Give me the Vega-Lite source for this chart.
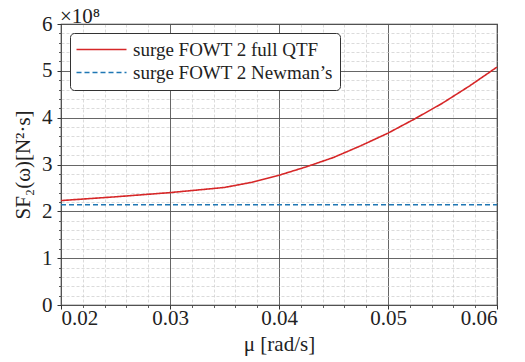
{
  "$schema": "https://vega.github.io/schema/vega-lite/v6.json",
  "width": 436,
  "height": 281,
  "autosize": "none",
  "padding": {"left": 61, "top": 24, "right": 28, "bottom": 57},
  "background": "white",
  "config": {
    "font": "Liberation Serif, Times New Roman, serif",
    "view": {"stroke": "#333333", "strokeWidth": 1.2},
    "axis": {"labelFont": "Liberation Serif, Times New Roman, serif", "titleFont": "Liberation Serif, Times New Roman, serif", "labelColor": "#222", "titleColor": "#222", "titleFontWeight": "normal"},
    "legend": {"labelFont": "Liberation Serif, Times New Roman, serif"},
    "title": {"font": "Liberation Serif, Times New Roman, serif"}
  },
  "title": {"text": "×10⁸", "anchor": "start", "frame": "group", "fontSize": 21, "fontWeight": "normal", "color": "#222", "offset": -14, "dx": -1},
  "data": {
    "values": [
      {"mu": 0.02, "S": 223000000, "series": "surge FOWT 2 full QTF"},
      {"mu": 0.025, "S": 231000000, "series": "surge FOWT 2 full QTF"},
      {"mu": 0.03, "S": 240000000, "series": "surge FOWT 2 full QTF"},
      {"mu": 0.035, "S": 251000000, "series": "surge FOWT 2 full QTF"},
      {"mu": 0.0375, "S": 262000000, "series": "surge FOWT 2 full QTF"},
      {"mu": 0.04, "S": 277000000, "series": "surge FOWT 2 full QTF"},
      {"mu": 0.0425, "S": 295000000, "series": "surge FOWT 2 full QTF"},
      {"mu": 0.045, "S": 315000000, "series": "surge FOWT 2 full QTF"},
      {"mu": 0.0475, "S": 340000000, "series": "surge FOWT 2 full QTF"},
      {"mu": 0.05, "S": 367000000, "series": "surge FOWT 2 full QTF"},
      {"mu": 0.0525, "S": 398000000, "series": "surge FOWT 2 full QTF"},
      {"mu": 0.055, "S": 431000000, "series": "surge FOWT 2 full QTF"},
      {"mu": 0.0575, "S": 468000000, "series": "surge FOWT 2 full QTF"},
      {"mu": 0.06, "S": 508000000, "series": "surge FOWT 2 full QTF"},
      {"mu": 0.02, "S": 214000000, "series": "surge FOWT 2 Newman’s"},
      {"mu": 0.06, "S": 214000000, "series": "surge FOWT 2 Newman’s"}
    ]
  },
  "resolve": {"axis": {"x": "independent", "y": "independent"}},
  "layer": [
    {
      "transform": [{"filter": "datum.series === 'surge FOWT 2 Newman’s'"}],
      "mark": {"type": "line", "strokeWidth": 1.6},
      "encoding": {
        "x": {"field": "mu", "type": "quantitative",
          "scale": {"domain": [0.02, 0.06], "nice": false, "zero": false},
          "axis": {"orient": "bottom", "title": null, "labels": false, "domain": false,
            "values": [0.022, 0.024, 0.026, 0.028, 0.032, 0.034, 0.036, 0.038, 0.042, 0.044, 0.046, 0.048, 0.052, 0.054, 0.056, 0.058],
            "grid": true, "gridColor": "#cccccc", "gridDash": [3, 2], "gridWidth": 0.7,
            "ticks": true, "tickSize": 2.5, "tickColor": "#333", "tickWidth": 0.8}},
        "y": {"field": "S", "type": "quantitative",
          "scale": {"domain": [0, 600000000], "nice": false},
          "axis": {"orient": "left", "title": null, "labels": false, "domain": false,
            "values": [20000000, 40000000, 60000000, 80000000, 120000000, 140000000, 160000000, 180000000, 220000000, 240000000, 260000000, 280000000, 320000000, 340000000, 360000000, 380000000, 420000000, 440000000, 460000000, 480000000, 520000000, 540000000, 560000000, 580000000],
            "grid": true, "gridColor": "#cccccc", "gridDash": [3, 2], "gridWidth": 0.7,
            "ticks": true, "tickSize": 2.5, "tickColor": "#333", "tickWidth": 0.8}},
        "color": {"field": "series", "type": "nominal",
          "scale": {"domain": ["surge FOWT 2 full QTF", "surge FOWT 2 Newman’s"], "range": ["#d62728", "#1f77b4"]},
          "legend": {"orient": "top-left", "offset": 9, "title": null, "symbolType": "M-5,0L5,0", "symbolSize": 100, "symbolStrokeWidth": 1.6,
            "symbolOffset": 15,
            "labelFontSize": 19, "labelColor": "#222", "labelOffset": 22, "rowPadding": 3,
            "padding": 7, "fillColor": "white", "strokeColor": "#333", "cornerRadius": 4, "labelLimit": 400}},
        "strokeDash": {"field": "series", "type": "nominal",
          "scale": {"domain": ["surge FOWT 2 full QTF", "surge FOWT 2 Newman’s"], "range": [[1, 0], [5, 3]]},
          "legend": null}
      }
    },
    {
      "transform": [{"filter": "datum.series === 'surge FOWT 2 full QTF'"}],
      "mark": {"type": "line", "strokeWidth": 1.6},
      "encoding": {
        "x": {"field": "mu", "type": "quantitative",
          "scale": {"domain": [0.02, 0.06], "nice": false, "zero": false},
          "axis": {"orient": "bottom", "title": "μ [rad/s]", "titleFontSize": 21, "titlePadding": 5,
            "values": [0.02, 0.03, 0.04, 0.05, 0.06], "format": ".2f",
            "labelFontSize": 21, "labelPadding": -2, "domain": false,
            "grid": true, "gridColor": "#555", "gridWidth": 0.9,
            "ticks": true, "tickSize": 4, "tickColor": "#333", "tickWidth": 1}},
        "y": {"field": "S", "type": "quantitative",
          "scale": {"domain": [0, 600000000], "nice": false},
          "axis": {"orient": "left", "title": "SF₂(ω)[N²·s]", "titleFontSize": 21, "titlePadding": 8,
            "values": [0, 100000000, 200000000, 300000000, 400000000, 500000000, 600000000],
            "labelExpr": "format(datum.value / 100000000, 'd')",
            "labelFontSize": 21, "labelPadding": 5, "domain": false,
            "grid": true, "gridColor": "#555", "gridWidth": 0.9,
            "ticks": true, "tickSize": 4, "tickColor": "#333", "tickWidth": 1}},
        "color": {"field": "series", "type": "nominal",
          "scale": {"domain": ["surge FOWT 2 full QTF", "surge FOWT 2 Newman’s"], "range": ["#d62728", "#1f77b4"]}},
        "strokeDash": {"field": "series", "type": "nominal",
          "scale": {"domain": ["surge FOWT 2 full QTF", "surge FOWT 2 Newman’s"], "range": [[1, 0], [5, 3]]},
          "legend": null}
      }
    }
  ]
}
